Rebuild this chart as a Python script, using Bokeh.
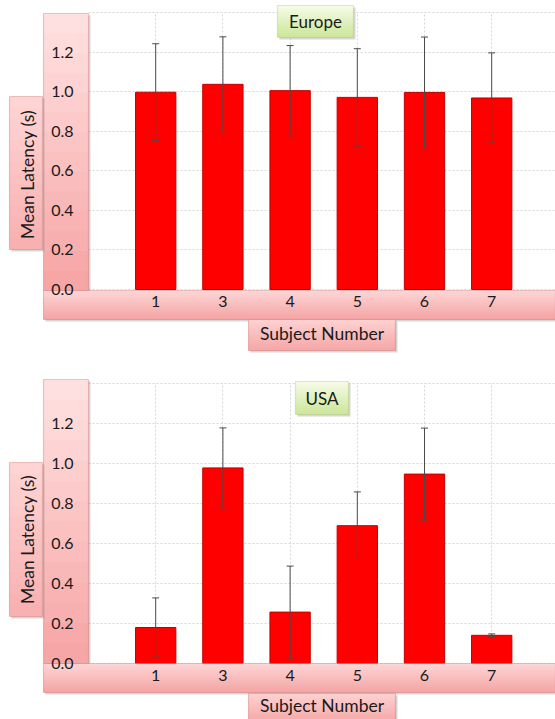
import math
from bokeh.plotting import figure
from bokeh.models import (ColumnDataSource, Range1d, FixedTicker, NumeralTickFormatter,
                          Whisker, TeeHead, BoxAnnotation, Label)
from bokeh.layouts import column
from bokeh.embed import file_html
from bokeh.resources import INLINE

# ---------------- data ----------------
subjects = ["1", "3", "4", "5", "6", "7"]
europe_mean = [0.997, 1.037, 1.005, 0.971, 0.996, 0.968]
europe_err = [0.245, 0.240, 0.228, 0.246, 0.280, 0.228]
usa_mean = [0.180, 0.978, 0.257, 0.689, 0.947, 0.141]
usa_err = [0.148, 0.200, 0.230, 0.169, 0.230, 0.007]
y_ticks = [0.0, 0.2, 0.4, 0.6, 0.8, 1.0, 1.2, 1.4]
y_label = "Mean Latency (s)"
x_label = "Subject Number"
titles = ["Europe", "USA"]

# ---------------- style / layout ----------------
FONT = "Lato"
W = 555
PLOT_LEFT = 88      # px where the value axis sits
SLOT = 67.2         # px per category
PINK_LINE = "#C0504D"
GREEN_LINE = "#9BBB59"
TXT = "#1A1A1A"


def mix(c1, c2, f):
    a = [int(c1[i:i + 2], 16) for i in (1, 3, 5)]
    b = [int(c2[i:i + 2], 16) for i in (1, 3, 5)]
    return "#%02x%02x%02x" % tuple(round(a[k] + (b[k] - a[k]) * f) for k in range(3))


def build(height, zero_py, top_py, means, errs, title, geo, xlab_standoff):
    yscale = (zero_py - top_py) / y_ticks[-1]          # px per unit
    Y0 = -(height - zero_py) / yscale
    Y1 = y_ticks[-1] + top_py / yscale
    X0 = -PLOT_LEFT / SLOT
    X1 = (W - PLOT_LEFT) / SLOT

    p = figure(width=W, height=height, x_range=Range1d(X0, X1), y_range=Range1d(Y0, Y1),
               output_backend="svg", toolbar_location=None,
               min_border_left=0, min_border_right=0, min_border_top=0, min_border_bottom=0)
    p.outline_line_color = None
    p.background_fill_color = "white"
    p.border_fill_color = "white"

    def dx(px):
        return X0 + px / SLOT

    def dy(py):
        return Y0 + (height - py) / yscale

    def box(l, t, r, b, color, alpha=1.0):
        p.add_layout(BoxAnnotation(left=dx(l), right=dx(r), top=dy(t), bottom=dy(b),
                                   fill_color=color, fill_alpha=alpha, line_color=None,
                                   level="guide"))

    def gbox(l, t, r, b, c1, c2, lc, n=14, shadow=True):
        if shadow:
            box(l + 2, t + 2, r + 2, b + 2, "#8C8C8C", 0.35)
        for i in range(n):
            f = i / (n - 1)
            st = t + (b - t) * i / n
            sb = min(b, t + (b - t) * (i + 1) / n + 0.7)
            box(l, st, r, sb, mix(c1, c2, f))
        p.add_layout(BoxAnnotation(left=dx(l), right=dx(r), top=dy(t), bottom=dy(b),
                                   fill_alpha=0.0, line_color=lc, line_width=1.2, level="guide"))

    # white margins so that grid lines stay inside the plotting area
    box(0, 0, PLOT_LEFT, height, "white")
    box(0, zero_py + 0.6, W, height, "white")
    box(0, 0, W, top_py - 0.6, "white")

    # decorative boxes
    gbox(*geo["ybox"], "#FFE0E0", "#F7A6A6", PINK_LINE)
    gbox(*geo["xbox"], "#FDD4D4", "#F5A5A5", PINK_LINE)
    gbox(*geo["ylab"], "#FFD4D4", "#F8B0B0", PINK_LINE)
    gbox(*geo["xlabbox"], "#FDD0D0", "#F6A8A8", PINK_LINE)
    gbox(*geo["tbox"], "#F5FBE6", "#CCE79A", GREEN_LINE)

    xs = list(range(1, len(subjects) + 1))
    src = ColumnDataSource(dict(
        x=xs, top=means,
        upper=[m + e for m, e in zip(means, errs)],
        lower=[m - e for m, e in zip(means, errs)],
    ))
    p.vbar(x="x", top="top", bottom=0, width=0.6, source=src, fill_color="#FF0000",
           line_color="#C00000", line_width=1)
    p.add_layout(Whisker(source=src, base="x", upper="upper", lower="lower",
                         line_color="#4A4A4A", line_width=1, level="annotation",
                         upper_head=TeeHead(size=7, line_color="#4A4A4A", line_width=1),
                         lower_head=TeeHead(size=7, line_color="#4A4A4A", line_width=1)))

    # axes (drawn at the zero line / left edge of the plotting area)
    p.xaxis.ticker = FixedTicker(ticks=xs)
    p.xaxis.major_label_overrides = {x: s for x, s in zip(xs, subjects)}
    p.xaxis.fixed_location = 0
    p.xaxis.bounds = (0, X1)
    p.yaxis.ticker = FixedTicker(ticks=y_ticks)
    p.yaxis.formatter = NumeralTickFormatter(format="0.0")
    p.yaxis.major_label_overrides = {y_ticks[-1]: ""}
    p.yaxis.fixed_location = 0
    for ax in (p.xaxis, p.yaxis):
        ax.axis_line_color = None
        ax.major_tick_line_color = None
        ax.minor_tick_line_color = None
        ax.major_tick_out = 0
        ax.major_tick_in = 0
        ax.major_label_text_font = FONT
        ax.major_label_text_font_size = "16px"
        ax.major_label_text_color = TXT
        ax.level = "annotation"
    p.yaxis.major_label_standoff = 15
    p.yaxis.major_label_text_baseline = "alphabetic"
    p.xaxis.major_label_standoff = 6
    p.xaxis.axis_label = x_label
    p.xaxis.axis_label_text_font = FONT
    p.xaxis.axis_label_text_font_size = "17.5px"
    p.xaxis.axis_label_text_font_style = "normal"
    p.xaxis.axis_label_text_color = TXT
    p.xaxis.axis_label_standoff = xlab_standoff

    p.grid.grid_line_color = "#D6D6D6"
    p.grid.grid_line_dash = "2 2"
    p.grid.grid_line_width = 1

    l, t, r, b = geo["ylab"]
    p.add_layout(Label(x=dx((l + r) / 2 + 1), y=dy(geo["ylab_cy"]), text=y_label, angle=math.pi / 2,
                       text_align="center", text_baseline="middle", text_font=FONT,
                       text_font_size="17.5px", text_color=TXT, level="overlay"))
    l, t, r, b = geo["tbox"]
    p.add_layout(Label(x=dx((l + r) / 2), y=dy((t + b) / 2), text=title,
                       text_align="center", text_baseline="middle", text_font=FONT,
                       text_font_size="17px", text_color=TXT, level="overlay"))
    return p


geo1 = dict(ybox=(43, 13, 88, 290), xbox=(43, 290, 555, 319), ylab=(9, 96, 42, 249), ylab_cy=174,
            xlabbox=(248, 319, 395, 350), tbox=(277, 5, 353, 37))
geo2 = dict(ybox=(43, 19, 88, 303), xbox=(43, 303, 555, 332), ylab=(9, 102, 42, 256), ylab_cy=179,
            xlabbox=(248, 333, 395, 362), tbox=(295, 21, 348, 54))

p1 = build(360, 289, 12, europe_mean, europe_err, titles[0], geo1, 13)
p2 = build(359, 303, 23, usa_mean, usa_err, titles[1], geo2, 11)

layout = column(p1, p2, spacing=0)
open("out.html", "w").write(file_html(layout, INLINE))
